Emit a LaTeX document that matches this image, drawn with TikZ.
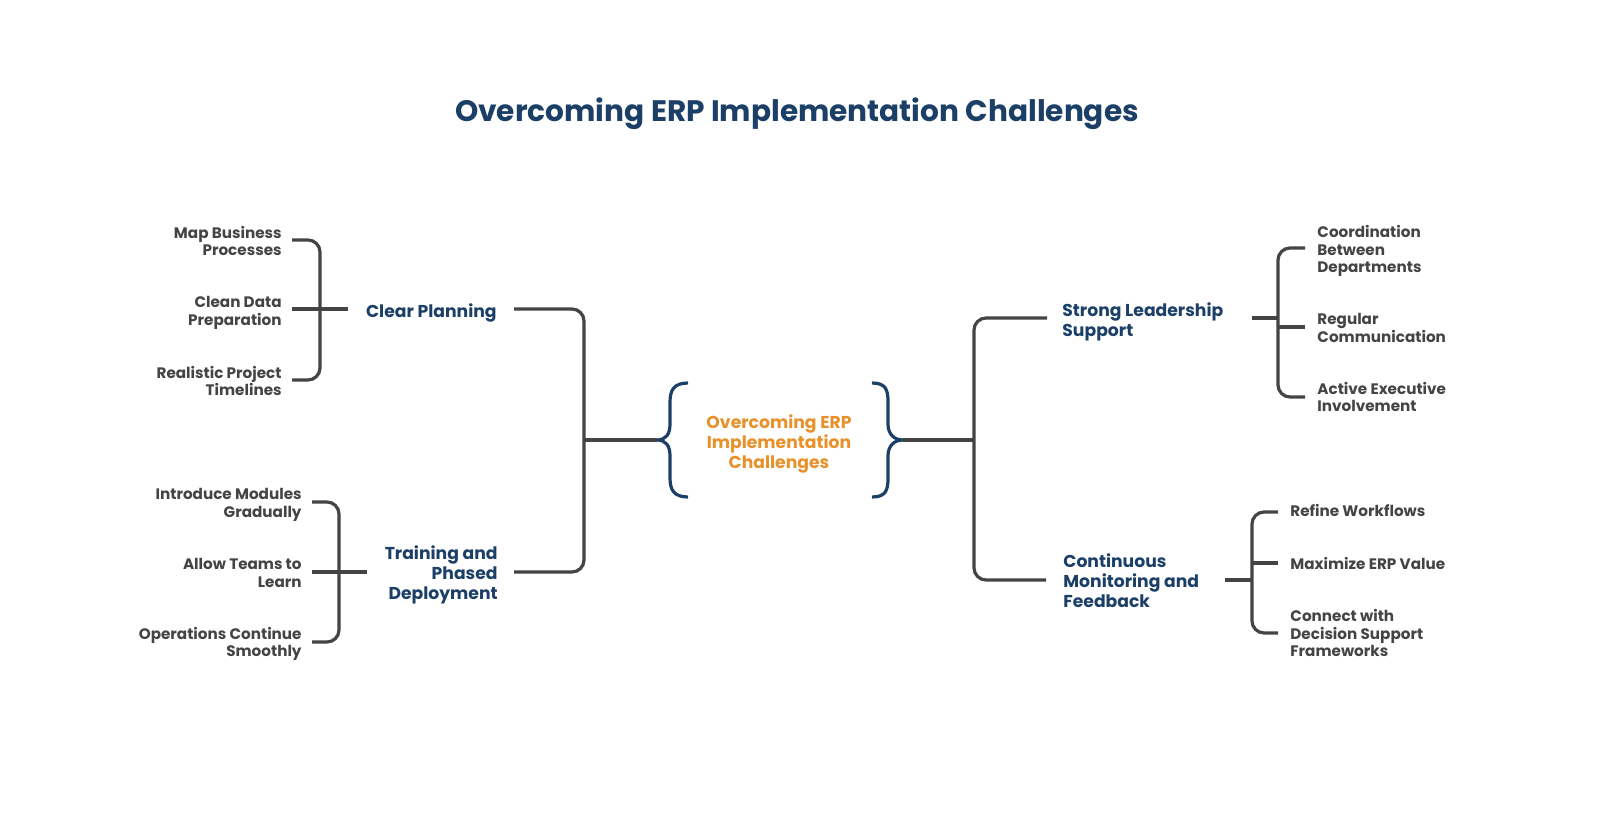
\documentclass[tikz,border=0pt]{standalone}
\usepackage{fontspec}
\setmainfont{Poppins}
\definecolor{navy}{HTML}{1B3F66}
\definecolor{orng}{HTML}{E8912A}
\definecolor{lgray}{HTML}{444444}
\begin{document}
\begin{tikzpicture}[x=0.5pt,y=-0.5pt,
  leaf/.style={font=\bfseries\fontsize{7.6}{8.75}\selectfont,text=lgray,inner sep=0pt},
  leafL/.style={leaf,align=right,anchor=east},
  leafR/.style={leaf,align=left,anchor=west},
  cat/.style={font=\bfseries\fontsize{8.6}{10}\selectfont,text=navy,inner sep=0pt},
  conn/.style={draw=lgray,line width=1.6pt,rounded corners=6pt},
  brace/.style={draw=navy,line width=1.6pt}]
\useasboundingbox (0,0) rectangle (1600,840);
\node[font=\bfseries\fontsize{14.8}{17}\selectfont,text=navy,inner sep=0pt] (title) at (797,114) {Overcoming ERP Implementation Challenges};

% centre
\node[font=\bfseries\fontsize{8.6}{10}\selectfont,text=orng,align=center,inner sep=0pt] (core) at (779,444) {Overcoming ERP\\Implementation\\Challenges};
\coordinate (lb) at (657,440);
\coordinate (rb) at (903,440);
\draw[brace] (688,383) .. controls (674,383) and (670,390) .. (670,402) -- (670,424) .. controls (670,434) and (666,440) .. (lb) .. controls (666,440) and (670,446) .. (670,456) -- (670,478) .. controls (670,490) and (674,497) .. (688,497);
\draw[brace] (872,383) .. controls (886,383) and (888,390) .. (888,402) -- (888,424) .. controls (888,434) and (894,440) .. (rb) .. controls (894,440) and (888,446) .. (888,456) -- (888,478) .. controls (888,490) and (886,497) .. (872,497);

% left categories
\node[cat,align=right,anchor=east] (cp) at (497,313) {Clear Planning};
\node[cat,align=right,anchor=east] (tpd) at (498,575) {Training and\\Phased\\Deployment};
\coordinate (cpo) at (514,309);
\coordinate (tpdo) at (514,572);
\coordinate (ljoin) at (584,440);
\draw[conn] (cpo) -- (584,309) -- (584,572) -- (tpdo);
\draw[conn] (ljoin) -- (lb);

% right categories
\node[cat,align=left,anchor=west] (sls) at (1062,322) {Strong Leadership\\Support};
\node[cat,align=left,anchor=west] (cmf) at (1063,581) {Continuous\\Monitoring and\\Feedback};
\coordinate (slsi) at (1047,318);
\coordinate (cmfi) at (1046,580);
\coordinate (rjoin) at (974,440);
\draw[conn] (slsi) -- (974,318) -- (974,580) -- (cmfi);
\draw[conn] (rb) -- (rjoin);

% Clear Planning leaves
\node[leafL] (l1) at (282,241) {Map Business\\Processes};
\node[leafL] (l2) at (282,313) {Clean Data\\Preparation};
\node[leafL] (l3) at (282,381) {Realistic Project\\Timelines};
\coordinate (cpb) at (348,309);
\draw[conn] (cpb) -- (292,309);
\draw[conn] (292,240) -- (320,240) -- (320,380) -- (292,380);

% Training leaves
\node[leafL] (l4) at (302,505) {Introduce Modules\\Gradually};
\node[leafL] (l5) at (302,573) {Allow Teams to\\Learn};
\node[leafL] (l6) at (302,644) {Operations Continue\\Smoothly};
\coordinate (tpdb) at (367,572);
\draw[conn] (tpdb) -- (312,572);
\draw[conn] (312,502) -- (339,502) -- (339,642) -- (312,642);

% Strong Leadership leaves
\node[leafR] (r1) at (1317,251) {Coordination\\Between\\Departments};
\node[leafR] (r2) at (1317,328) {Regular\\Communication};
\node[leafR] (r3) at (1317,397) {Active Executive\\Involvement};
\coordinate (slsb) at (1252,318);
\draw[conn] (slsb) -- (1278,318);
\draw[conn] (1305,248) -- (1278,248) -- (1278,397) -- (1305,397);
\draw[conn] (1278,327) -- (1305,327);

% Monitoring leaves
\node[leafR] (r4) at (1290,510) {Refine Workflows};
\node[leafR] (r5) at (1290,563) {Maximize ERP Value};
\node[leafR] (r6) at (1290,633) {Connect with\\Decision Support\\Frameworks};
\coordinate (cmfb) at (1225,580);
\draw[conn] (cmfb) -- (1252,580);
\draw[conn] (1278,512) -- (1252,512) -- (1252,633) -- (1278,633);
\draw[conn] (1252,563) -- (1278,563);
\end{tikzpicture}
\end{document}
